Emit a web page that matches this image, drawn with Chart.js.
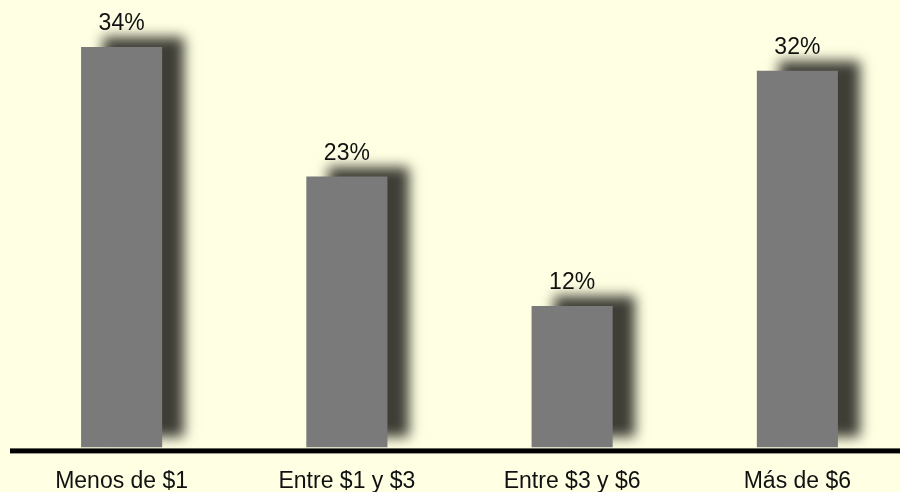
<!DOCTYPE html>
<html lang="es">
<head>
    <meta charset="UTF-8">
    <title>Gasto diario</title>
    <style>
        html, body { margin: 0; padding: 0; background: #FFFFE3; overflow: hidden; }
        .frame { width: 900px; height: 492px; overflow: hidden; }
        .container { position: relative; width: 910px; height: 515px; }
    </style>
    <script src="https://cdn.jsdelivr.net/npm/chart.js"></script>
</head>
<body>
    <div class="frame">
        <div class="container">
            <canvas id="gastoChart"></canvas>
        </div>
    </div>

    <script>
        const categories = ['Menos de $1', 'Entre $1 y $3', 'Entre $3 y $6', 'Más de $6'];
        const percentages = [34, 23, 12, 32];
        const yMax = 38;

        const FONT = 'Arial, "Liberation Sans", sans-serif';

        // Dark offset shadow behind the bars, then percentage labels and the thick base line
        const barDecor = {
            id: 'barDecor',
            beforeDatasetsDraw(chart) {
                const ctx = chart.ctx;
                ctx.save();
                ctx.shadowColor = 'rgb(62, 62, 54)';
                ctx.shadowBlur = 12;
                ctx.shadowOffsetX = 22;
                ctx.shadowOffsetY = -10;
            },
            afterDatasetsDraw(chart) {
                const ctx = chart.ctx;
                ctx.restore();

                const area = chart.chartArea;
                ctx.save();
                ctx.fillStyle = '#000';
                ctx.fillRect(area.left + 1, area.bottom + 1, area.right - area.left, 5);

                ctx.font = '23px ' + FONT;
                ctx.textAlign = 'center';
                ctx.textBaseline = 'alphabetic';
                ctx.fillStyle = '#111';
                const meta = chart.getDatasetMeta(0);
                meta.data.forEach((bar, i) => {
                    ctx.fillText(percentages[i] + '%', bar.x, bar.y - 17);
                });
                ctx.restore();
            }
        };

        new Chart(document.getElementById('gastoChart'), {
            type: 'bar',
            data: {
                labels: categories,
                datasets: [{
                    data: percentages,
                    backgroundColor: '#7A7A7A',
                    borderWidth: 0,
                    inflateAmount: 0,
                    categoryPercentage: 1,
                    barPercentage: 0.36
                }]
            },
            options: {
                responsive: true,
                maintainAspectRatio: false,
                animation: false,
                layout: { padding: { left: 9, right: 0, top: 0, bottom: 0 } },
                plugins: {
                    legend: { display: false },
                    tooltip: { enabled: false }
                },
                scales: {
                    x: {
                        grid: { display: false, drawTicks: false },
                        border: { display: false },
                        ticks: {
                            color: '#111',
                            padding: 20,
                            font: { family: FONT, size: 23 }
                        }
                    },
                    y: {
                        display: false,
                        min: 0,
                        max: yMax
                    }
                }
            },
            plugins: [barDecor]
        });
    </script>
</body>
</html>
